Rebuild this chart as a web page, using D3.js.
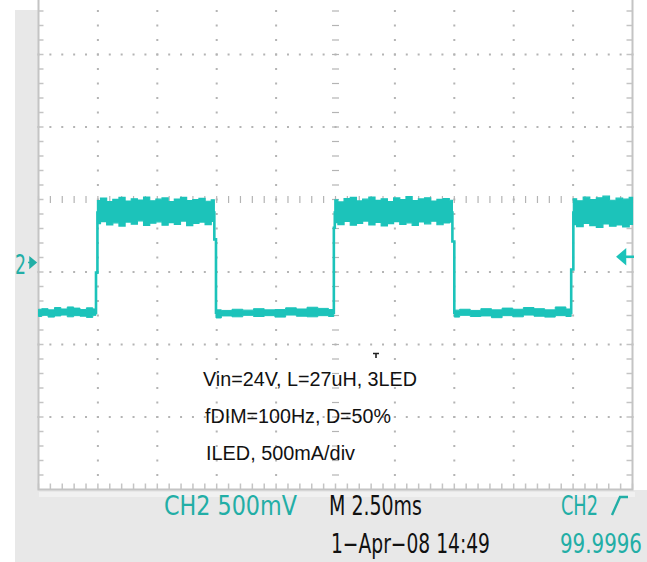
<!DOCTYPE html>
<html>
<head>
<meta charset="utf-8">
<script src="https://cdn.jsdelivr.net/npm/d3@7"></script>
<style>
  html, body { margin: 0; padding: 0; background: #ffffff; }
  svg { display: block; }
</style>
</head>
<body>
<div id="scopeChart"></div>
<script>
// Screen settings (2.50 ms/div, 500 mA/div, 10 x 8 divisions)
var msPerDiv = 2.5;
var mAPerDiv = 500;
var groundDiv = -0.87;          // CH2 ground marker, in divisions from the centre

// Trace vertices (time in ms, current in mA) - the edges of the PWM dimming signal
var traceT  = [0, 2.42, 2.42, 2.48, 2.48, 7.40, 7.40, 7.47, 7.47, 12.43, 12.43, 12.47, 12.47, 17.42, 17.42, 17.50, 17.50, 22.42, 22.42, 22.51, 22.51, 25];
var traceMA = [-345, -345, -69, -69, 345, 345, 160, 160, -345, -345, 240, 240, 345, 345, 145, 145, -345, -345, -48, -48, 345, 345];

// Noise envelope of the "on" parts
var highSpans = [[2.48, 7.40], [12.47, 17.42], [22.51, 25]];
var highUpper = [
  [428, 445, 421, 436, 450, 424, 440, 431, 452, 426, 437, 446, 420, 438, 449, 427, 435, 443, 423, 433],
  [432, 418, 441, 449, 425, 437, 452, 429, 440, 421, 446, 434, 455, 428, 439, 447, 424, 436, 442, 430],
  [440, 426, 451, 435, 447, 458, 430, 444, 437, 449]
];
var highLower = [
  [268, 282, 259, 274, 252, 279, 265, 288, 256, 272, 281, 258, 276, 263, 286, 255, 270, 279, 262, 284],
  [275, 262, 284, 258, 271, 286, 260, 277, 253, 269, 282, 264, 274, 257, 280, 267, 285, 261, 273, 279],
  [262, 248, 270, 255, 243, 266, 251, 259, 246, 264]
];

// Noise envelope of the "off" parts
var lowSpans = [[0, 2.42], [7.47, 12.43], [17.50, 22.42]];
var lowUpper = [
  [-322, -318, -326, -310, -320, -306, -314, -324, -312, -320],
  [-326, -330, -322, -328, -318, -326, -324, -312, -320, -308, -316, -324],
  [-328, -322, -330, -318, -326, -314, -322, -310, -318, -326, -306, -320]
];
var lowLower = [
  [-372, -364, -376, -368, -362, -374, -366, -370, -378, -364],
  [-382, -368, -374, -364, -372, -366, -376, -362, -370, -374, -366, -372],
  [-376, -364, -372, -368, -380, -366, -374, -362, -370, -376, -366, -372]
];

// Text on the screen
var noteLines = ["Vin=24V, L=27uH, 3LED", "fDIM=100Hz, D=50%", "ILED, 500mA/div"];
var readoutTop = ["CH2  500mV", "M 2.50ms", "CH2"];
var readoutBottom = ["1\u2212Apr\u221208 14:49", "99.9996"];

var width = 647, height = 562;
var teal = "#1cc3ba";
var tealText = "#22aea6";
var frameGray = "#e8e8e8";
var gridGray = "#b4b4b4";

var svg = d3.select("#scopeChart")
  .append("svg")
  .attr("width", width)
  .attr("height", height);

// Scales: the screen top is cut off, the bottom edge sits at y = 489.5
var x = d3.scaleLinear().domain([0, 10 * msPerDiv]).range([38.5, 632.5]);
var yDiv = d3.scaleLinear().domain([-4, 4]).range([489.5, -90.5]);
var y = d3.scaleLinear()
  .domain([(-4 - groundDiv) * mAPerDiv, (4 - groundDiv) * mAPerDiv])
  .range(yDiv.range());

// Grey instrument frame
svg.append("rect").attr("x", 0).attr("y", 0).attr("width", width).attr("height", height).attr("fill", "#ffffff");
svg.append("rect").attr("x", 15).attr("y", 10).attr("width", 24).attr("height", height - 10).attr("fill", frameGray);
svg.append("rect").attr("x", 15).attr("y", 490).attr("width", width - 15).attr("height", height - 490).attr("fill", frameGray);
svg.append("rect").attr("x", 39).attr("y", 492).attr("width", 596).attr("height", 5).attr("fill", "#f1f1f1");
svg.append("rect").attr("x", 39).attr("y", 0).attr("width", 593).attr("height", 489).attr("fill", "#ffffff");

var grid = svg.append("g").attr("class", "graticule");

var majorT = d3.range(1, 10).map(function (i) { return i * msPerDiv; });
var majorDiv = [-3, -2, -1, 1, 2, 3];
var minorT = d3.range(0, 51).map(function (i) { return i * msPerDiv / 5; });
var minorDiv = d3.range(-20, 21).map(function (i) { return i / 5; });
var visibleDiv = minorDiv.filter(function (d) { return yDiv(d) > 0 && yDiv(d) < 488; });

// Dotted horizontal grid lines
majorDiv.forEach(function (d) {
  grid.selectAll(null)
    .data(minorT)
    .enter()
    .append("rect")
    .attr("x", function (t) { return x(t) - 1; })
    .attr("y", yDiv(d) - 1)
    .attr("width", 2)
    .attr("height", 2)
    .attr("fill", gridGray);
});

// Dotted vertical grid lines
majorT.filter(function (t) { return t !== 5 * msPerDiv; }).forEach(function (t) {
  grid.selectAll(null)
    .data(visibleDiv)
    .enter()
    .append("rect")
    .attr("x", x(t) - 1)
    .attr("y", function (d) { return yDiv(d) - 1; })
    .attr("width", 2)
    .attr("height", 2)
    .attr("fill", gridGray);
});

// Centre lines with small ticks
grid.selectAll(null)
  .data(minorT)
  .enter()
  .append("line")
  .attr("x1", function (t) { return x(t); })
  .attr("x2", function (t) { return x(t); })
  .attr("y1", yDiv(0) - 3.5)
  .attr("y2", yDiv(0) + 3.5)
  .attr("stroke", gridGray)
  .attr("stroke-width", 1.2);

grid.selectAll(null)
  .data(visibleDiv)
  .enter()
  .append("line")
  .attr("x1", x(5 * msPerDiv) - 3.5)
  .attr("x2", x(5 * msPerDiv) + 3.5)
  .attr("y1", function (d) { return yDiv(d); })
  .attr("y2", function (d) { return yDiv(d); })
  .attr("stroke", gridGray)
  .attr("stroke-width", 1.2);

// Border ticks: left, right and bottom edge
var edgeGray = "#c4c4c4";
grid.selectAll(null)
  .data(visibleDiv)
  .enter()
  .append("line")
  .attr("x1", x(0)).attr("x2", x(0) + 5)
  .attr("y1", function (d) { return yDiv(d); })
  .attr("y2", function (d) { return yDiv(d); })
  .attr("stroke", edgeGray).attr("stroke-width", 1.5);

grid.selectAll(null)
  .data(visibleDiv)
  .enter()
  .append("line")
  .attr("x1", x(10 * msPerDiv) - 6).attr("x2", x(10 * msPerDiv))
  .attr("y1", function (d) { return yDiv(d); })
  .attr("y2", function (d) { return yDiv(d); })
  .attr("stroke", edgeGray).attr("stroke-width", 1.5);

grid.selectAll(null)
  .data(minorT)
  .enter()
  .append("line")
  .attr("x1", function (t) { return x(t); })
  .attr("x2", function (t) { return x(t); })
  .attr("y1", yDiv(-4) - 6)
  .attr("y2", yDiv(-4))
  .attr("stroke", edgeGray).attr("stroke-width", 1.5);

// Screen border
grid.append("path")
  .attr("d", "M" + x(0) + ",0V" + yDiv(-4) + "H" + x(10 * msPerDiv) + "V0")
  .attr("fill", "none")
  .attr("stroke", edgeGray)
  .attr("stroke-width", 2);

// Annotation text in the middle of the screen
svg.append("g")
  .selectAll("text")
  .data(noteLines)
  .enter()
  .append("text")
  .attr("x", function (d, i) { return [203, 205, 206][i]; })
  .attr("y", function (d, i) { return [386, 423, 460][i]; })
  .attr("textLength", function (d, i) { return [214, 186, 149][i]; })
  .attr("lengthAdjust", "spacingAndGlyphs")
  .attr("font-family", "'Liberation Sans', Arial, sans-serif")
  .attr("font-size", 20.5)
  .attr("fill", "#111111")
  .text(function (d) { return d; });

// Trigger position marker above the text
svg.append("path")
  .attr("d", "M373,353.5H379M376,353.5V358")
  .attr("stroke", "#222")
  .attr("stroke-width", 1.6)
  .attr("fill", "none");

// Waveform
var trace = svg.append("g").attr("class", "trace");

function envelope(span, upper, lower) {
  var n = upper.length;
  return upper.map(function (u, i) {
    return { t: span[0] + (span[1] - span[0]) * i / (n - 1), hi: u, lo: lower[i] };
  });
}

var band = d3.area()
  .curve(d3.curveStep)
  .x(function (d) { return x(d.t); })
  .y0(function (d) { return y(d.lo); })
  .y1(function (d) { return y(d.hi); });

highSpans.forEach(function (span, i) {
  trace.append("path")
    .datum(envelope(span, highUpper[i], highLower[i]))
    .attr("d", band)
    .attr("fill", teal)
    .attr("stroke", teal)
    .attr("stroke-width", 1.2);
});

lowSpans.forEach(function (span, i) {
  trace.append("path")
    .datum(envelope(span, lowUpper[i], lowLower[i]))
    .attr("d", band)
    .attr("fill", teal)
    .attr("stroke", teal)
    .attr("stroke-width", 1);
});

var line = d3.line()
  .x(function (d) { return x(d[0]); })
  .y(function (d) { return y(d[1]); });

trace.append("path")
  .datum(d3.zip(traceT, traceMA))
  .attr("d", line)
  .attr("fill", "none")
  .attr("stroke", teal)
  .attr("stroke-width", 2.6);

// Squeeze a text horizontally to a given width (condensed scope font look)
var scopeFont = "'DejaVu Sans Condensed', 'Liberation Sans Narrow', 'DejaVu Sans', sans-serif";
function squeeze(sel, left, base, w) {
  sel.attr("x", 0).attr("y", 0).each(function () {
    var sx = w / this.getComputedTextLength();
    d3.select(this).attr("transform", "translate(" + left + "," + base + ") scale(" + sx + ",1)");
  });
}

// Channel ground marker "2" and the trigger level arrow
svg.append("text")
  .attr("font-family", scopeFont).attr("font-size", 26)
  .attr("fill", tealText)
  .text("2")
  .call(squeeze, 15, 274, 11);
svg.append("path")
  .attr("d", "M28," + y(0) + "H33M30," + (y(0) - 5) + "L36," + y(0) + "L30," + (y(0) + 5) + "Z")
  .attr("fill", tealText).attr("stroke", tealText).attr("stroke-width", 1.5);

var trigY = y(40);
svg.append("path")
  .attr("d", "M618," + trigY + "L625," + (trigY - 6) + "L625," + (trigY + 6) + "Z M624," + trigY + "H634")
  .attr("fill", teal).attr("stroke", teal).attr("stroke-width", 2.5);

// Read-outs under the screen
var readout = svg.append("g")
  .attr("font-family", scopeFont)
  .attr("font-size", 26);

var topLeft = [164, 329, 561], topWidth = [133, 93, 37];
readoutTop.forEach(function (d, i) {
  readout.append("text")
    .attr("fill", i === 1 ? "#111111" : tealText)
    .text(d)
    .call(squeeze, topLeft[i], 515, topWidth[i]);
});

var bottomLeft = [331, 560], bottomWidth = [159, 82];
readoutBottom.forEach(function (d, i) {
  readout.append("text")
    .attr("fill", i === 0 ? "#111111" : tealText)
    .text(d)
    .call(squeeze, bottomLeft[i], 553, bottomWidth[i]);
});

// Rising-edge trigger symbol
svg.append("path")
  .attr("d", "M612,515L620,497H628")
  .attr("fill", "none")
  .attr("stroke", tealText)
  .attr("stroke-width", 2.4);
</script>
</body>
</html>
